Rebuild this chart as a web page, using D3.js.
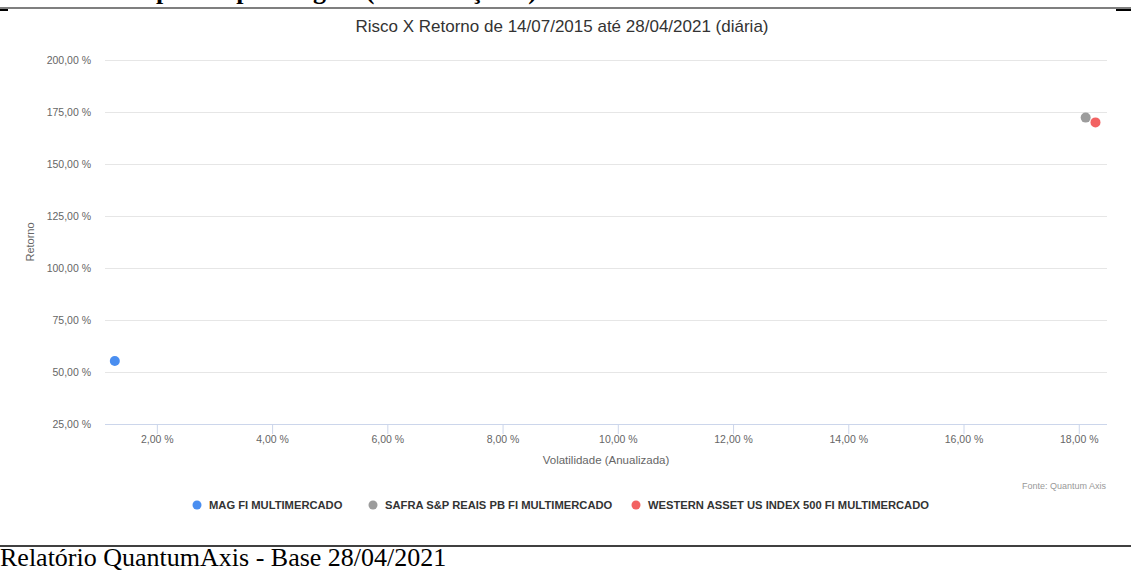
<!DOCTYPE html>
<html><head><meta charset="utf-8">
<script src="https://cdn.jsdelivr.net/npm/d3@7"></script>
<style>
html,body{margin:0;padding:0;background:#fff;overflow:hidden;}
svg{display:block;}
</style></head>
<body>
<svg id="chart" width="1131" height="573"></svg>
<script>
const seriesNames = ["MAG FI MULTIMERCADO", "SAFRA S&P REAIS PB FI MULTIMERCADO", "WESTERN ASSET US INDEX 500 FI MULTIMERCADO"];
const seriesColors = ["#4a8ef0", "#9c9c9c", "#f26262"];
const volatility = [1.27, 18.12, 18.29];
const returns = [55.3, 172.3, 170.0];
const yTicks = [25, 50, 75, 100, 125, 150, 175, 200];
const xTicks = [2, 4, 6, 8, 10, 12, 14, 16, 18];
const chartTitle = "Risco X Retorno de 14/07/2015 até 28/04/2021 (diária)";
const xTitle = "Volatilidade (Anualizada)";
const yTitle = "Retorno";

const fmt = v => v.toFixed(2).replace(".", ",") + " %";
const svg = d3.select("#chart");
const font = "'Liberation Sans', Arial, sans-serif";
const serif = "'Liberation Serif','Times New Roman',serif";

const L = 105, R = 1107, T = 60, B = 424;
const x = d3.scaleLinear().domain([1.1, 18.49]).range([L, R]);
const y = d3.scaleLinear().domain([25, 200]).range([B, T]);

// page header remnants (cut off at the top edge, as in the reference)
svg.append("text").attr("x", 0).attr("y", -1).attr("font-family", serif)
  .attr("font-size", 26).attr("font-weight", "bold").attr("fill", "#000")
  .text("Gráfico de dispersão por origem (continuação...)");
svg.append("line").attr("x1", 0).attr("x2", 1131).attr("y1", 8).attr("y2", 8).attr("stroke", "#000").attr("stroke-width", 1.2);
svg.append("line").attr("x1", 0).attr("x2", 8).attr("y1", 10).attr("y2", 10).attr("stroke", "#000").attr("stroke-width", 2);
svg.append("line").attr("x1", 1116).attr("x2", 1131).attr("y1", 10).attr("y2", 10).attr("stroke", "#000").attr("stroke-width", 2);

// title
svg.append("text").attr("x", 562).attr("y", 32).attr("text-anchor", "middle")
  .attr("font-family", font).attr("font-size", 17).attr("fill", "#333").text(chartTitle);

// y grid + labels
const yAxis = d3.axisLeft(y).tickValues(yTicks).tickSize(-(R - L)).tickFormat(fmt).tickPadding(14);
const gy = svg.append("g").attr("transform", `translate(${L},0)`).call(yAxis);
gy.select(".domain").remove();
gy.selectAll(".tick line").attr("stroke", "#e6e6e6");
gy.selectAll(".tick text").attr("font-family", font).attr("font-size", 10.5).attr("fill", "#666");

// x axis
const xAxis = d3.axisBottom(x).tickValues(xTicks).tickSize(10).tickFormat(fmt).tickPadding(2);
const gx = svg.append("g").attr("transform", `translate(0,${B})`).call(xAxis);
gx.select(".domain").attr("stroke", "#ccd6eb").attr("d", `M${L},0.5H${R}`);
gx.selectAll(".tick line").attr("stroke", "#ccd6eb");
gx.selectAll(".tick text").attr("font-family", font).attr("font-size", 10.5).attr("fill", "#666");

// axis titles
svg.append("text").attr("x", 606).attr("y", 464).attr("text-anchor", "middle")
  .attr("font-family", font).attr("font-size", 11.5).attr("fill", "#666").text(xTitle);
svg.append("text").attr("transform", "translate(34,242) rotate(-90)").attr("text-anchor", "middle")
  .attr("font-family", font).attr("font-size", 11).attr("fill", "#666").text(yTitle);

// points
svg.append("g").selectAll("circle").data(seriesNames).join("circle")
  .attr("cx", (d, i) => x(volatility[i])).attr("cy", (d, i) => y(returns[i]))
  .attr("r", 5).attr("fill", (d, i) => seriesColors[i]);

// credits
svg.append("text").attr("x", 1106).attr("y", 489).attr("text-anchor", "end")
  .attr("font-family", font).attr("font-size", 9).attr("fill", "#999").text("Fonte: Quantum Axis");

// legend
const legendX = [197, 373, 636];
const lg = svg.append("g").selectAll("g").data(seriesNames).join("g")
  .attr("transform", (d, i) => `translate(${legendX[i]},505)`);
lg.append("circle").attr("r", 4.5).attr("fill", (d, i) => seriesColors[i]);
lg.append("text").attr("x", 12).attr("y", 4).attr("font-family", font).attr("font-size", 11.2)
  .attr("font-weight", "bold").attr("fill", "#333").text(d => d);

// footer
svg.append("line").attr("x1", 0).attr("x2", 1131).attr("y1", 546).attr("y2", 546).attr("stroke", "#000").attr("stroke-width", 1.5);
svg.append("text").attr("x", 0).attr("y", 566).attr("font-family", serif)
  .attr("font-size", 26).attr("fill", "#000").text("Relatório QuantumAxis - Base 28/04/2021");
</script>
</body></html>
